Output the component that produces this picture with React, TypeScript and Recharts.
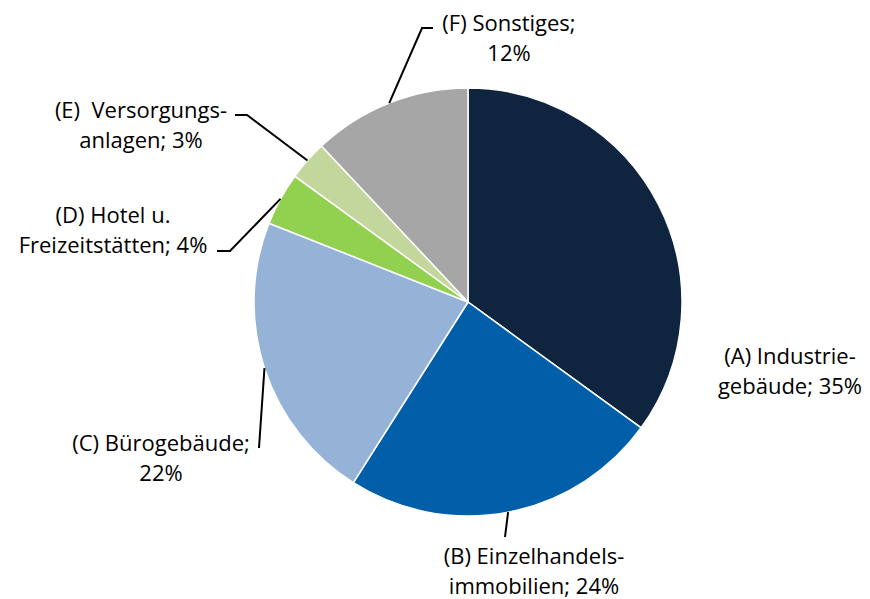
import { Cell, Pie, PieChart } from "recharts";

const categories = [
  "(A) Industriegebäude",
  "(B) Einzelhandelsimmobilien",
  "(C) Bürogebäude",
  "(D) Hotel u. Freizeitstätten",
  "(E) Versorgungsanlagen",
  "(F) Sonstiges",
];
const shares = [35, 24, 22, 4, 3, 12];
const labelLines = [
  ["(A) Industrie-", "gebäude; 35%"],
  ["(B) Einzelhandels-", "immobilien; 24%"],
  ["(C) Bürogebäude;", "22%"],
  ["(D) Hotel u.", "Freizeitstätten; 4%"],
  ["(E)  Versorgungs-", "anlagen; 3%"],
  ["(F) Sonstiges;", "12%"],
];
const COLORS = ["#0F243E", "#005FA8", "#95B3D7", "#92D050", "#C3D69B", "#A6A6A6"];

const data = categories.map((name, i) => ({ name, value: shares[i] }));

// label placement (text centre + first baseline) and leader-line bends after the slice edge
const LABEL_LAYOUT: { x: number; y: number; leader: [number, number][] }[] = [
  { x: 782, y: 356, leader: [] },
  { x: 526, y: 556, leader: [[497, 529]] },
  { x: 153, y: 443, leader: [[251, 440]] },
  { x: 105, y: 215, leader: [[222, 243], [209, 243]] },
  { x: 133, y: 110, leader: [[239, 107], [227, 107]] },
  { x: 501, y: 23, leader: [[414, 20], [425, 20]] },
];

const RAD = Math.PI / 180;
const FONT = "'Open Sans', Lato, sans-serif";

function SliceLabel(props: any) {
  const { cx, cy, midAngle, outerRadius, index } = props;
  const layout = LABEL_LAYOUT[index];
  const ex = cx + outerRadius * Math.cos(-midAngle * RAD);
  const ey = cy + outerRadius * Math.sin(-midAngle * RAD);
  const pts = [[ex, ey], ...layout.leader];
  return (
    <g>
      {layout.leader.length ? (
        <polyline
          points={pts.map((p) => p.join(",")).join(" ")}
          fill="none"
          stroke="#000"
          strokeWidth={2}
        />
      ) : null}
      <text
        x={layout.x}
        y={layout.y}
        textAnchor="middle"
        fontFamily={FONT}
        fontSize={22}
        fill="#000"
        style={{ whiteSpace: "pre" }}
      >
        {labelLines[index].map((line, li) => (
          <tspan key={li} x={layout.x} dy={li === 0 ? 0 : 30}>
            {line}
          </tspan>
        ))}
      </text>
    </g>
  );
}

export default function App() {
  return (
    <div style={{ width: 854, height: 591, background: "#fff" }}>
      <PieChart width={854} height={591}>
        <Pie
          data={data}
          dataKey="value"
          nameKey="name"
          cx={455}
          cy={289}
          outerRadius={214}
          startAngle={90}
          endAngle={-270}
          stroke="#fff"
          strokeWidth={1.5}
          label={SliceLabel}
          labelLine={false}
          isAnimationActive={false}
        >
          {data.map((d, i) => (
            <Cell key={d.name} fill={COLORS[i]} />
          ))}
        </Pie>
      </PieChart>
    </div>
  );
}
